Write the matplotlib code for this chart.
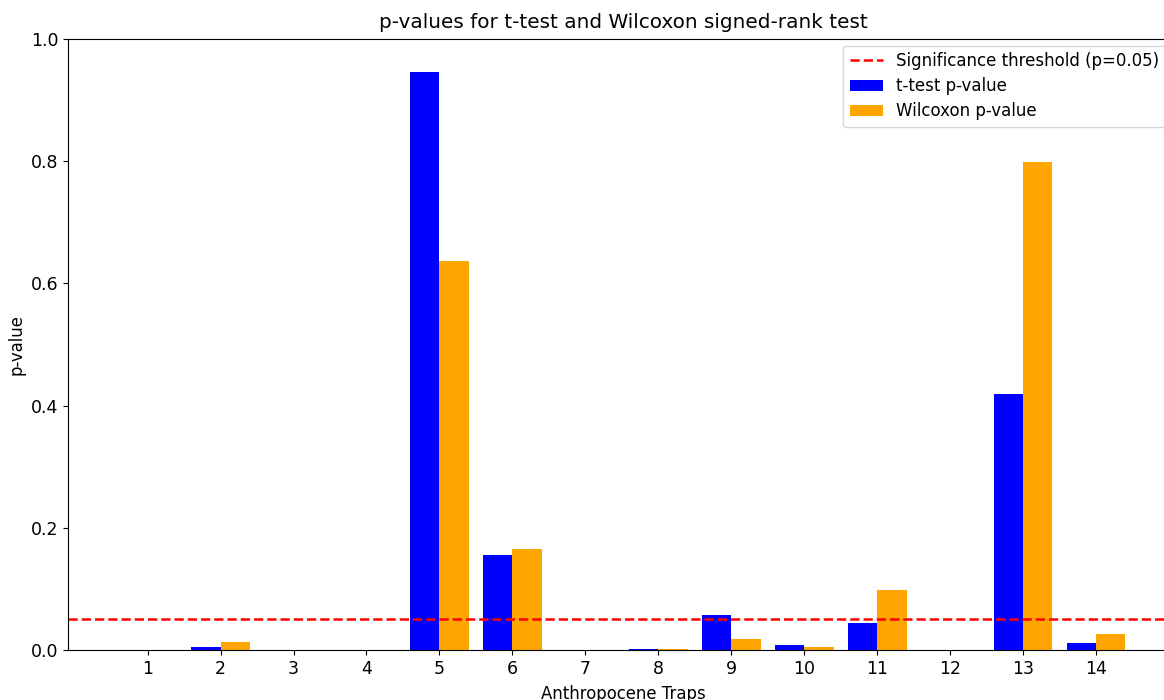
import matplotlib
matplotlib.use("Agg")
import matplotlib.pyplot as plt
import numpy as np

traps = [1, 2, 3, 4, 5, 6, 7, 8, 9, 10, 11, 12, 13, 14]
ttest_p = [0.0, 0.0055, 0.0, 0.0, 0.946, 0.155, 0.0, 0.002, 0.057, 0.008, 0.045, 0.0, 0.419, 0.012]
wilcoxon_p = [0.0, 0.0125, 0.0, 0.0, 0.637, 0.165, 0.0, 0.002, 0.0175, 0.0055, 0.098, 0.0, 0.799, 0.0257]
threshold = 0.05

fig = plt.figure(figsize=(11.64, 7.0), dpi=100)
ax = fig.add_axes([68 / 1164, 0.0714, (1178 - 68) / 1164, 0.8729])

x = np.array(traps)
w = 0.4
ax.axhline(threshold, color='red', linestyle='--', linewidth=1.8,
           label='Significance threshold (p=0.05)')
ax.bar(x - w / 2, ttest_p, width=w, color='blue', label='t-test p-value')
ax.bar(x + w / 2, wilcoxon_p, width=w, color='orange', label='Wilcoxon p-value')

ax.set_xlim(-0.09, 15.12)
ax.set_ylim(0, 1.0)
ax.set_xticks(traps)
ax.set_xticklabels([str(t) for t in traps])
ax.set_yticks([0.0, 0.2, 0.4, 0.6, 0.8, 1.0])
ax.tick_params(labelsize=12.5)
ax.set_xlabel('Anthropocene Traps', fontsize=11.9, labelpad=5)
ax.set_ylabel('p-value', fontsize=11.9)
ax.set_title('p-values for t-test and Wilcoxon signed-rank test', fontsize=14.4, pad=8)

ax.legend(loc='upper left', bbox_to_anchor=(843 / 1164, 1 - 45.5 / 700),
          bbox_transform=fig.transFigure, borderaxespad=0, fontsize=12,
          labelspacing=0.42)

fig.savefig('out.png', dpi=100)
